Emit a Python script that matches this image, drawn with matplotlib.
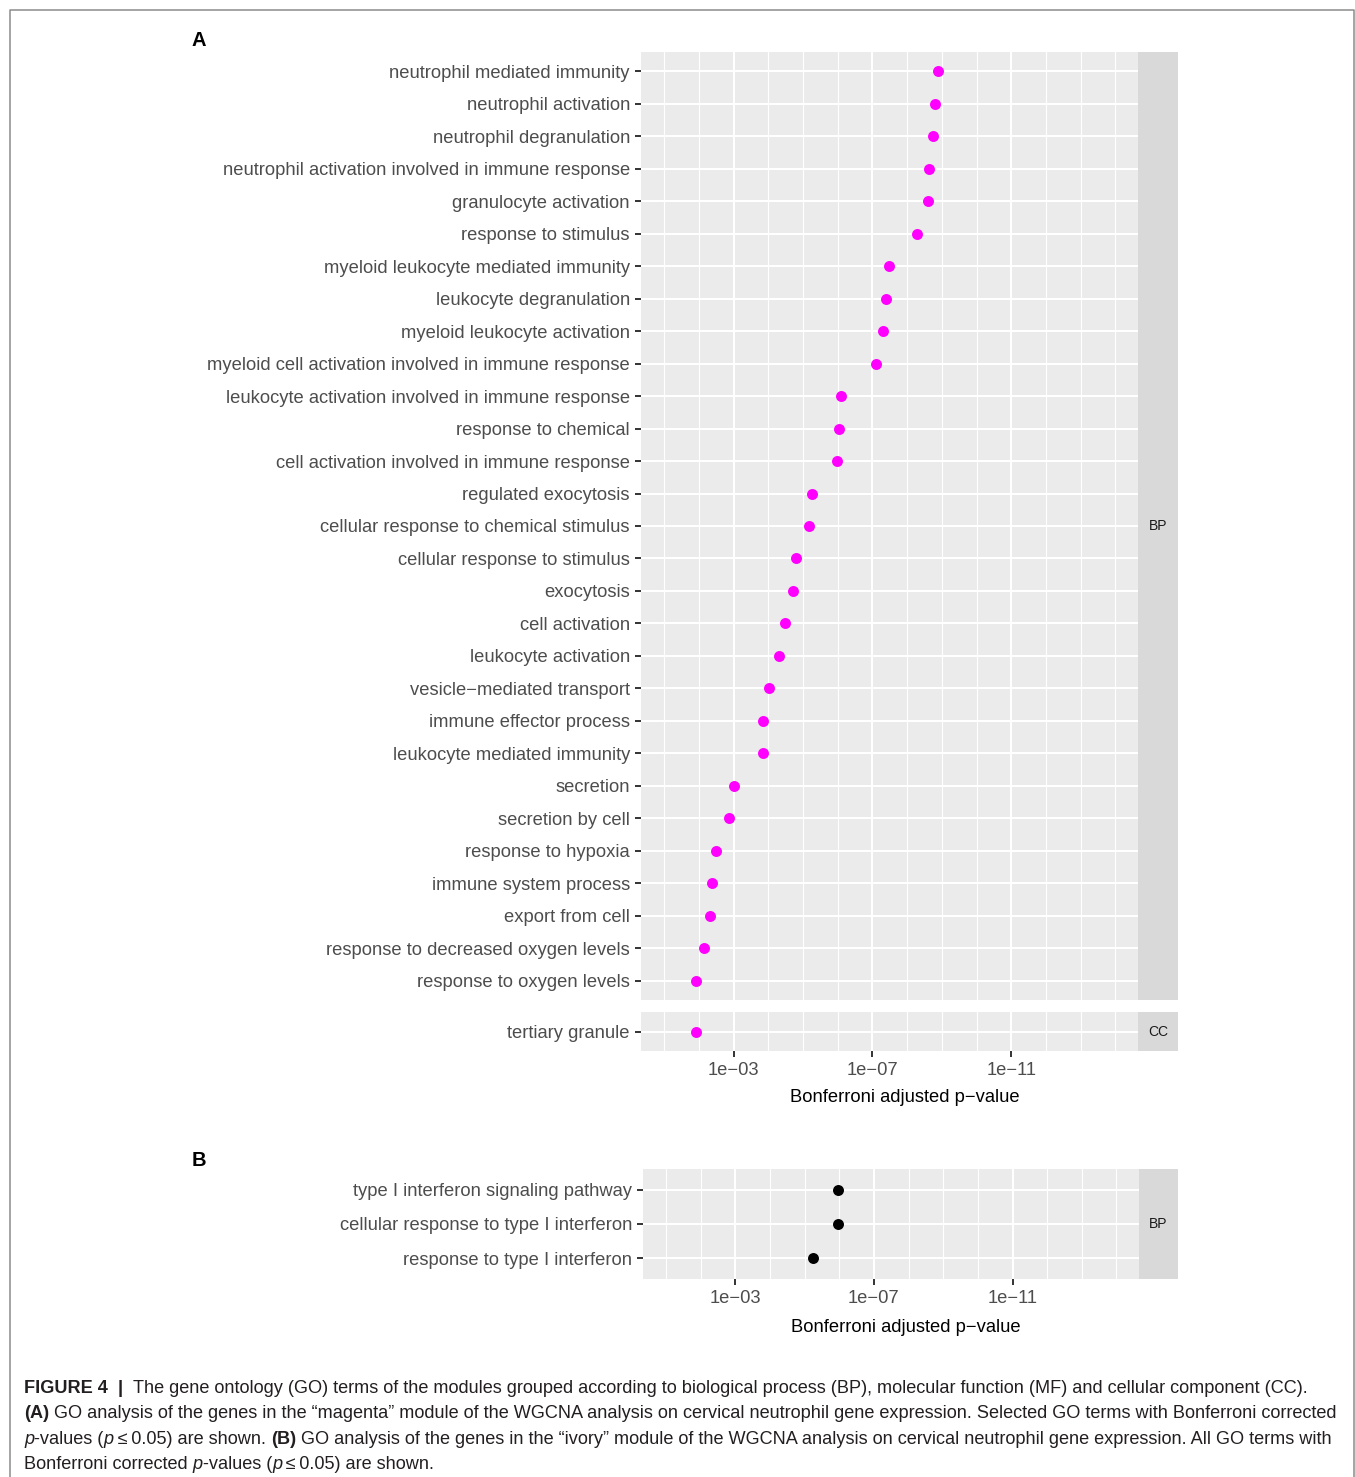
import numpy as np
import matplotlib
matplotlib.use("Agg")
import matplotlib.pyplot as plt
from matplotlib.lines import Line2D

plt.rcParams["font.family"] = ["Liberation Sans", "DejaVu Sans"]

# ---- data (panel A, magenta module) ----
bp_terms_a = [
    "neutrophil mediated immunity", "neutrophil activation", "neutrophil degranulation",
    "neutrophil activation involved in immune response", "granulocyte activation",
    "response to stimulus", "myeloid leukocyte mediated immunity", "leukocyte degranulation",
    "myeloid leukocyte activation", "myeloid cell activation involved in immune response",
    "leukocyte activation involved in immune response", "response to chemical",
    "cell activation involved in immune response", "regulated exocytosis",
    "cellular response to chemical stimulus", "cellular response to stimulus", "exocytosis",
    "cell activation", "leukocyte activation", "vesicle\u2212mediated transport",
    "immune effector process", "leukocyte mediated immunity", "secretion", "secretion by cell",
    "response to hypoxia", "immune system process", "export from cell",
    "response to decreased oxygen levels", "response to oxygen levels",
]
bp_pvals_a = [
    1.3e-09, 1.6e-09, 1.8e-09, 2.4e-09, 2.5e-09, 5.2e-09, 3.4e-08, 4.1e-08,
    5.0e-08, 7.9e-08, 7.9e-07, 9.3e-07, 1.05e-06, 5.5e-06, 6.6e-06, 1.55e-05,
    1.9e-05, 3.2e-05, 4.8e-05, 9.3e-05, 1.38e-04, 1.41e-04, 1.0e-03, 1.35e-03,
    3.2e-03, 4.2e-03, 4.9e-03, 6.9e-03, 1.23e-02,
]
cc_terms_a = ["tertiary granule"]
cc_pvals_a = [1.2e-02]

# ---- data (panel B, ivory module) ----
bp_terms_b = [
    "type I interferon signaling pathway",
    "cellular response to type I interferon",
    "response to type I interferon",
]
bp_pvals_b = [1.07e-06, 1.07e-06, 5.6e-06]

W, H = 1355, 1477
fig = plt.figure(figsize=(W / 100, H / 100), dpi=100)

PANEL_BG = "#EBEBEB"
STRIP_BG = "#D9D9D9"
XLIM = (10 ** -0.335, 10 ** -14.65)
major_x = [1e-3, 1e-7, 1e-11]
major_lbl = ["1e\u221203", "1e\u221207", "1e\u221211"]
minor_x = [10.0 ** -k for k in [1, 2, 4, 5, 6, 8, 9, 10, 12, 13, 14]]


def px_axes(x0, y0, x1, y1, **kw):
    return fig.add_axes([x0 / W, 1 - y1 / H, (x1 - x0) / W, (y1 - y0) / H], **kw)


def dot_panel(box, terms, pvals, color, show_x):
    ax = px_axes(*box)
    ax.set_facecolor(PANEL_BG)
    y = np.arange(len(terms))
    ax.set_xscale("log")
    ax.set_xlim(*XLIM)
    ax.set_ylim(len(terms) - 0.4, -0.6)
    ax.set_xticks(major_x)
    ax.set_xticks(minor_x, minor=True)
    ax.set_xticklabels(major_lbl if show_x else [])
    ax.xaxis.set_minor_formatter(matplotlib.ticker.NullFormatter())
    ax.set_yticks(y)
    ax.set_yticklabels(terms)
    for v in major_x:
        ax.axvline(v, color="white", lw=1.5, zorder=1)
    for v in minor_x:
        ax.axvline(v, color="white", lw=0.8, zorder=1)
    for v in y:
        ax.axhline(v, color="white", lw=1.5, zorder=1)
    ax.plot(pvals, y, "o", color=color, ms=7.9, mec="none", zorder=3)
    for s in ax.spines.values():
        s.set_visible(False)
    ax.tick_params(axis="y", length=4, width=1.4, color="#333333", pad=4,
                   labelsize=13.2, labelcolor="#4D4D4D")
    ax.tick_params(axis="x", which="major", length=4 if show_x else 0, width=1.4,
                   color="#333333", pad=4, labelsize=13.2, labelcolor="#4D4D4D")
    ax.tick_params(axis="x", which="minor", length=0)
    return ax


def strip(box, label):
    ax = px_axes(*box)
    ax.set_facecolor(STRIP_BG)
    ax.set_xticks([])
    ax.set_yticks([])
    for s in ax.spines.values():
        s.set_visible(False)
    ax.text(0.5, 0.5, label, ha="center", va="center", fontsize=10,
            color="#1A1A1A", transform=ax.transAxes)


# panel A
dot_panel((641, 52, 1138, 1000), bp_terms_a, bp_pvals_a, "#FF00FF", False)
strip((1138, 52, 1178, 1000), "BP")
dot_panel((641, 1012, 1138, 1051), cc_terms_a, cc_pvals_a, "#FF00FF", True)
strip((1138, 1012, 1178, 1051), "CC")
fig.text(905 / W, 1 - 1098 / H, "Bonferroni adjusted p\u2212value", ha="center",
         va="center", fontsize=13.2, color="black")
fig.text(199 / W, 1 - 40 / H, "A", ha="center", va="center", fontsize=14.5,
         fontweight="bold")

# panel B
dot_panel((643, 1169, 1139, 1279), bp_terms_b, bp_pvals_b, "black", True)
strip((1139, 1169, 1178, 1279), "BP")
fig.text(906 / W, 1 - 1328 / H, "Bonferroni adjusted p\u2212value", ha="center",
         va="center", fontsize=13.2, color="black")
fig.text(199 / W, 1 - 1160 / H, "B", ha="center", va="center", fontsize=14.5,
         fontweight="bold")

# frame around the figure
fig.add_artist(Line2D([9.5 / W, 9.5 / W, 1354 / W, 1354 / W],
                      [0, 1 - 9.5 / H, 1 - 9.5 / H, 0],
                      transform=fig.transFigure, color="#8C8C8C", lw=1.1))

# caption with mixed styles
renderer = fig.canvas.get_renderer()
CAP_SIZE = 13.05
CAP_COLOR = "#231F20"


def text_width(s, **kw):
    t = fig.text(0, 0, s, fontsize=CAP_SIZE, **kw)
    w = t.get_window_extent(renderer).width
    t.remove()
    return w


def rich_line(x, y, segments):
    for s, style in segments:
        kw = {}
        if style == "b":
            kw["fontweight"] = "bold"
        elif style == "i":
            kw["fontstyle"] = "italic"
        sp = text_width("a a", **kw) - text_width("aa", **kw)
        lead = len(s) - len(s.lstrip(" "))
        trail = len(s) - len(s.rstrip(" "))
        core = s.strip(" ")
        x += lead * sp
        if core:
            fig.text(x / W, 1 - y / H, core, fontsize=CAP_SIZE, color=CAP_COLOR,
                     va="baseline", ha="left", **kw)
            x += text_width(core, **kw)
        x += trail * sp


caption = [
    [("FIGURE 4  ", "b"), ("|", "b"),
     ("  The gene ontology (GO) terms of the modules grouped according to "
      "biological process (BP), molecular function (MF) and cellular component (CC).", "")],
    [("(A)", "b"), (" GO analysis of the genes in the \u201cmagenta\u201d module of the WGCNA analysis on "
                    "cervical neutrophil gene expression. Selected GO terms with Bonferroni corrected", "")],
    [("p", "i"), ("-values (", ""), ("p", "i"), ("\u2009\u2264\u20090.05) are shown. ", ""), ("(B)", "b"),
     (" GO analysis of the genes in the \u201civory\u201d module of the WGCNA analysis on cervical "
      "neutrophil gene expression. All GO terms with", "")],
    [("Bonferroni corrected ", ""), ("p", "i"), ("-values (", ""), ("p", "i"),
     ("\u2009\u2264\u20090.05) are shown.", "")],
]
for i, segs in enumerate(caption):
    rich_line(24, 1393 + i * 25.3, segs)

fig.savefig("out.png", dpi=100)
